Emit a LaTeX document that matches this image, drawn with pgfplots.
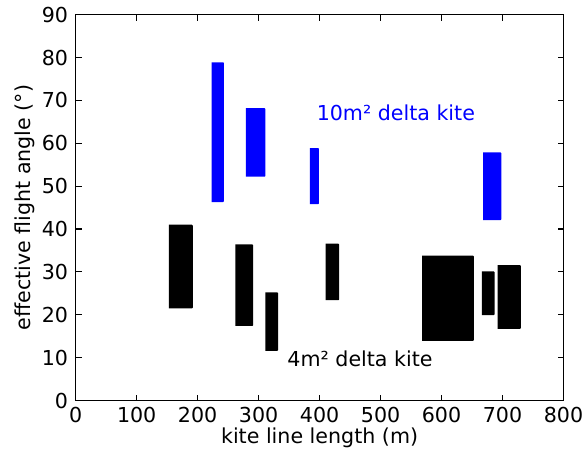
\documentclass[border=0pt]{standalone}
\usepackage{fontspec}
\setmainfont{DejaVu Sans}
\usepackage{pgfplots}
\pgfplotsset{compat=1.18}

\pgfplotsset{
	kite10/.style={fill=blue, draw=none, rounded corners=0.8bp},
	kite4/.style={fill=black, draw=none, rounded corners=0.8bp},
}

\begin{document}
\begin{tikzpicture}
	% page = 585 x 449 bp, axis south west corner at (0,0)
	\path[use as bounding box] (-75.7bp,-48.5bp) rectangle (509.3bp,400.5bp);
	\begin{axis}[
	at={(0,0)}, anchor=south west,
	scale only axis,
	width=487.8bp, height=385.8bp,
	xmin=0, xmax=800,
	ymin=0, ymax=90,
	xtick distance=100,
	ytick distance=10,
	tick align=inside,
	major tick length=6bp,
	every tick/.style={black, line width=1.1bp},
	axis line style={line width=1.5bp},
	font=\fontsize{20.6bp}{24bp}\selectfont,
	/pgf/number format/assume math mode=true,
	xticklabel style={inner sep=0pt, anchor=north, yshift=-6.8bp},
	yticklabel style={inner sep=0pt, anchor=east, xshift=-7.4bp},
	xlabel={kite line length (m)},
	ylabel={effective flight angle (°)},
	every axis x label/.style={at={(axis description cs:0.5,0)}, anchor=base, yshift=-42.8bp},
	every axis y label/.style={at={([xshift=-45.5bp]axis description cs:0,0.5)}, rotate=90, anchor=base},
	clip=false,
	]
	% 10 m^2 delta kite
	\addplot[kite10] coordinates {(223,46.3) (243,46.3) (243,78.9) (223,78.9)};
	\addplot[kite10] coordinates {(279,52.2) (311,52.2) (311,68.2) (279,68.2)};
	\addplot[kite10] coordinates {(384,45.8) (399,45.8) (399,58.9) (384,58.9)};
	\addplot[kite10] coordinates {(668,42.1) (698,42.1) (698,57.9) (668,57.9)};
	% 4 m^2 delta kite
	\addplot[kite4] coordinates {(153,21.5) (192,21.5) (192,41.0) (153,41.0)};
	\addplot[kite4] coordinates {(262,17.4) (291,17.4) (291,36.4) (262,36.4)};
	\addplot[kite4] coordinates {(311,11.6) (332,11.6) (332,25.2) (311,25.2)};
	\addplot[kite4] coordinates {(410,23.4) (432,23.4) (432,36.6) (410,36.6)};
	\addplot[kite4] coordinates {(568,13.9) (653,13.9) (653,33.8) (568,33.8)};
	\addplot[kite4] coordinates {(666,19.9) (687,19.9) (687,30.1) (666,30.1)};
	\addplot[kite4] coordinates {(692,16.7) (730,16.7) (730,31.6) (692,31.6)};

	\node[anchor=base west, inner sep=0pt, text=blue] at (axis cs:395,65.3) {10m² delta kite};
	\node[anchor=base west, inner sep=0pt] at (axis cs:347,7.9) {4m² delta kite};
	\end{axis}
\end{tikzpicture}
\end{document}
